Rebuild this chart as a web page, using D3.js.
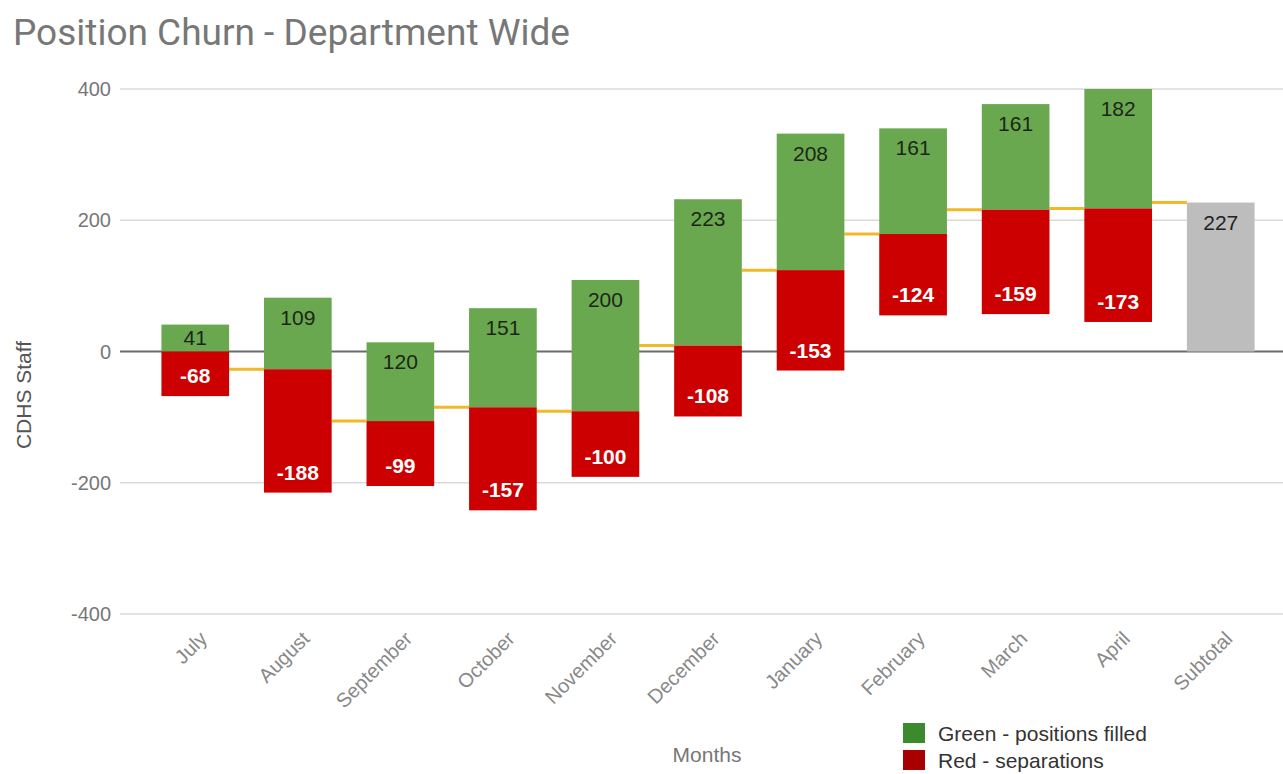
<!DOCTYPE html>
<html>
<head>
<meta charset="utf-8">
<script src="https://cdn.jsdelivr.net/npm/d3@7"></script>
<style>
  body { margin: 0; background: #fff; }
  text { font-family: "Liberation Sans", Arial, sans-serif; }
</style>
</head>
<body>
<div id="chart"></div>
<script>
// waterfall of monthly position churn

const months = ["July", "August", "September", "October", "November", "December",
  "January", "February", "March", "April"];
const filled = [41, 109, 120, 151, 200, 223, 208, 161, 161, 182];
const separations = [-68, -188, -99, -157, -100, -108, -153, -124, -159, -173];
const yTicks = [-400, -200, 0, 200, 400];
const subtotalLabel = "Subtotal";

const width = 1283;
const height = 774;

const svg = d3.select("#chart").append("svg")
  .attr("width", width)
  .attr("height", height);

// running totals
let running = 0;
const rows = months.map((m, i) => {
  const base = running;
  running = base + filled[i] + separations[i];
  return { name: m, base: base, up: filled[i], down: separations[i], end: running };
});
const total = running;
const cats = months.concat([subtotalLabel]);

const xScale = d3.scaleBand()
  .domain(cats)
  .range([144, 1272])
  .paddingInner(0.34)
  .paddingOuter(0.17);

const yScale = d3.scaleLinear()
  .domain([-400, 400])
  .range([614, 89]);

// grid
svg.append('g')
  .selectAll('line')
  .data(yTicks.filter(t => t !== 0))
  .enter()
  .append('line')
  .attr('x1', 120)
  .attr('x2', 1283)
  .attr('y1', d => yScale(d))
  .attr('y2', d => yScale(d))
  .attr('stroke', '#dadada')
  .attr('stroke-width', 1.5)

svg.append('line')
  .attr('x1', 120)
  .attr('x2', 1283)
  .attr('y1', yScale(0))
  .attr('y2', yScale(0))
  .attr('stroke', '#6b6b6b')
  .attr('stroke-width', 2)

// y tick labels
svg.append('g')
  .selectAll('text')
  .data(yTicks)
  .enter()
  .append('text')
  .attr('x', 111)
  .attr('y', d => yScale(d) + 7)
  .attr('text-anchor', 'end')
  .attr('fill', '#777')
  .style('font-size', '20px')
  .text(d => d)

// connectors
const links = rows.map((r, i) => ({ from: cats[i], to: cats[i + 1], v: r.end }));
svg.append('g')
  .selectAll('line')
  .data(links)
  .enter()
  .append('line')
  .attr('x1', d => xScale(d.from) + xScale.bandwidth())
  .attr('x2', d => xScale(d.to))
  .attr('y1', d => yScale(d.v))
  .attr('y2', d => yScale(d.v))
  .attr('stroke', '#f1b928')
  .attr('stroke-width', 3)

const groups = svg.append('g')
  .selectAll('g')
  .data(rows)
  .enter()
  .append('g')

groups.append('rect')
  .attr('x', d => xScale(d.name))
  .attr('width', xScale.bandwidth())
  .attr('y', d => yScale(d.base + d.up))
  .attr('height', d => yScale(d.base) - yScale(d.base + d.up))
  .attr('fill', '#6aa84f')

groups.append('rect')
  .attr('x', d => xScale(d.name))
  .attr('width', xScale.bandwidth())
  .attr('y', d => yScale(d.base))
  .attr('height', d => yScale(d.base + d.down) - yScale(d.base))
  .attr('fill', '#cc0000')

groups.append('text')
  .attr('x', d => xScale(d.name) + xScale.bandwidth() / 2)
  .attr('y', d => {
    const h = yScale(d.base) - yScale(d.base + d.up);
    return yScale(d.base + d.up) + Math.min(20, h / 2) + 7;
  })
  .attr('text-anchor', 'middle')
  .attr('fill', '#1c2618')
  .style('font-size', '21px')
  .text(d => d.up)

groups.append('text')
  .attr('x', d => xScale(d.name) + xScale.bandwidth() / 2)
  .attr('y', d => {
    const h = yScale(d.base + d.down) - yScale(d.base);
    return yScale(d.base + d.down) - Math.min(20, h / 2) + 7;
  })
  .attr('text-anchor', 'middle')
  .attr('fill', '#fff')
  .style('font-size', '21px')
  .style('font-weight', 'bold')
  .text(d => d.down)

// subtotal
svg.append('rect')
  .attr('x', xScale(subtotalLabel))
  .attr('width', xScale.bandwidth())
  .attr('y', yScale(total))
  .attr('height', yScale(0) - yScale(total))
  .attr('fill', '#bdbdbd')

svg.append('text')
  .attr('x', xScale(subtotalLabel) + xScale.bandwidth() / 2)
  .attr('y', yScale(total) + 27)
  .attr('text-anchor', 'middle')
  .attr('fill', '#222')
  .style('font-size', '21px')
  .text(total)

// x labels
svg.append('g')
  .selectAll('text')
  .data(cats)
  .enter()
  .append('text')
  .attr('transform', d => `translate(${xScale(d) + xScale.bandwidth() / 2 + 13}, 640) rotate(-45)`)
  .attr('text-anchor', 'end')
  .attr('fill', '#888')
  .style('font-size', '20px')
  .text(d => d)

// titles
svg.append('text')
  .attr('x', 13)
  .attr('y', 45)
  .attr('fill', '#777')
  .style('font-family', 'Roboto, sans-serif')
  .style('font-size', '37px')
  .text('Position Churn - Department Wide')

svg.append('text')
  .attr('transform', 'translate(31, 395) rotate(-90)')
  .attr('text-anchor', 'middle')
  .attr('fill', '#555')
  .style('font-size', '21px')
  .text('CDHS Staff')

svg.append('text')
  .attr('x', 707)
  .attr('y', 762)
  .attr('text-anchor', 'middle')
  .attr('fill', '#777')
  .style('font-size', '21px')
  .text('Months')

// legend
const legend = [
  { label: 'Green - positions filled', color: '#3c8a2e' },
  { label: 'Red - separations', color: '#a80000' }
];
const lg = svg.append('g')
  .selectAll('g')
  .data(legend)
  .enter()
  .append('g')
  .attr('transform', (d, i) => `translate(903, ${723 + i * 27})`)

lg.append('rect')
  .attr('width', 22)
  .attr('height', 20)
  .attr('fill', d => d.color)

lg.append('text')
  .attr('x', 35)
  .attr('y', 18)
  .attr('fill', '#333')
  .style('font-size', '21px')
  .text(d => d.label)
</script>
</body>
</html>
